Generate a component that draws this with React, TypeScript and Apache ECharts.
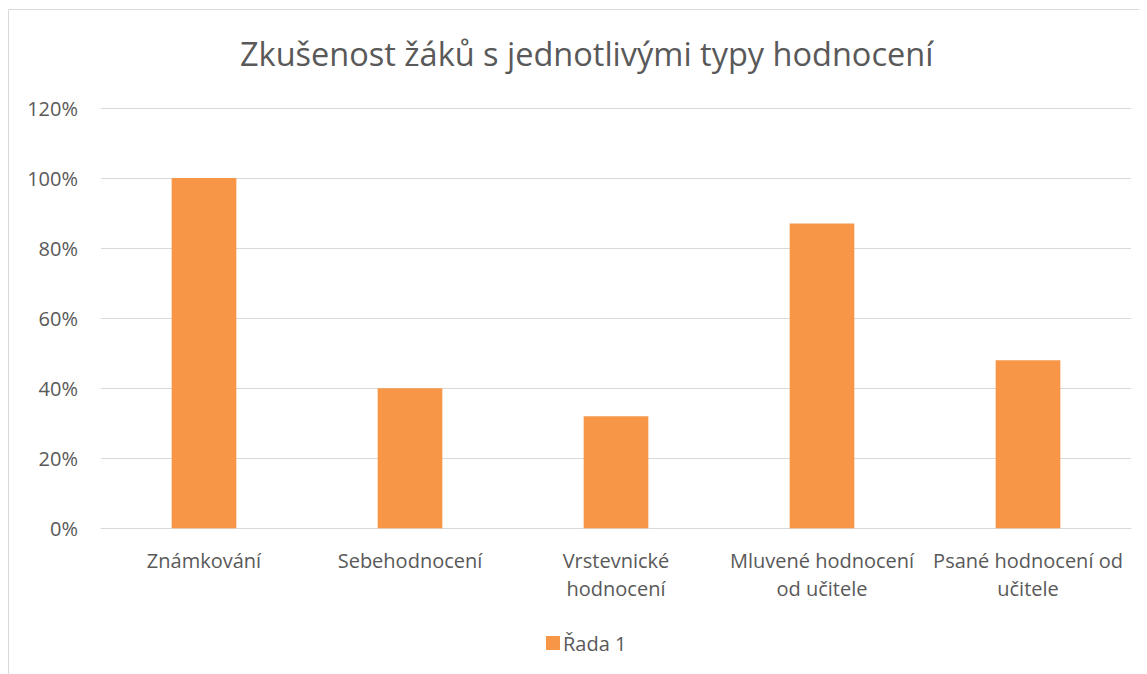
import React, { useEffect, useRef } from "react";
import * as echarts from "echarts";

const titleText = "Zkušenost žáků s jednotlivými typy hodnocení";
const categories = [
  "Známkování",
  "Sebehodnocení",
  "Vrstevnické\nhodnocení",
  "Mluvené hodnocení\nod učitele",
  "Psané hodnocení od\nučitele",
];
const seriesName = "Řada 1";
const values = [1.0, 0.4, 0.32, 0.87, 0.48];
const yMin = 0;
const yMax = 1.2;
const yInterval = 0.2;

const FONT = "'Open Sans', sans-serif";
const TEXT = "#595959";

export default function App() {
  const ref = useRef<HTMLDivElement>(null);
  useEffect(() => {
    if (!ref.current) return;
    const chart = echarts.init(ref.current, undefined, { renderer: "svg" });
    chart.setOption({
      animation: false,
      backgroundColor: "#ffffff",
      title: {
        text: titleText,
        left: 227,
        top: 24,
        textStyle: { fontFamily: FONT, fontSize: 32.5, fontWeight: "normal", color: TEXT },
      },
      graphic: [
        {
          type: "rect",
          shape: { x: 0.5, y: 1.5, width: 2000, height: 2000 },
          style: { fill: "none", stroke: "#d9d9d9", lineWidth: 1 },
          silent: true,
        },
      ],
      legend: {
        data: [seriesName],
        left: 533,
        top: 620,
        itemWidth: 14,
        itemHeight: 14,
        itemGap: 10,
        icon: "rect",
        textStyle: { fontFamily: FONT, fontSize: 20, color: TEXT, padding: [0, 0, 0, -2] },
      },
      grid: { left: 93, right: 16, top: 100, bottom: 145.7, containLabel: false },
      xAxis: {
        type: "category",
        data: categories,
        axisLine: { show: true, lineStyle: { color: "#d9d9d9", width: 1 } },
        axisTick: { show: false },
        axisLabel: {
          fontFamily: FONT,
          fontSize: 20,
          color: TEXT,
          lineHeight: 28,
          margin: 18,
          interval: 0,
        },
      },
      yAxis: {
        type: "value",
        min: yMin,
        max: yMax,
        interval: yInterval,
        axisLine: { show: false },
        axisTick: { show: false },
        splitLine: { lineStyle: { color: "#d9d9d9", width: 1 } },
        axisLabel: {
          fontFamily: FONT,
          fontSize: 20,
          color: TEXT,
          margin: 23,
          formatter: (v: number) => Math.round(v * 100) + "%",
        },
      },
      series: [
        {
          name: seriesName,
          type: "bar",
          data: values,
          barWidth: "31.4%",
          itemStyle: { color: "#f79646" },
        },
      ],
    });
    return () => chart.dispose();
  }, []);
  return <div ref={ref} style={{ width: 1139, height: 666 }} />;
}
